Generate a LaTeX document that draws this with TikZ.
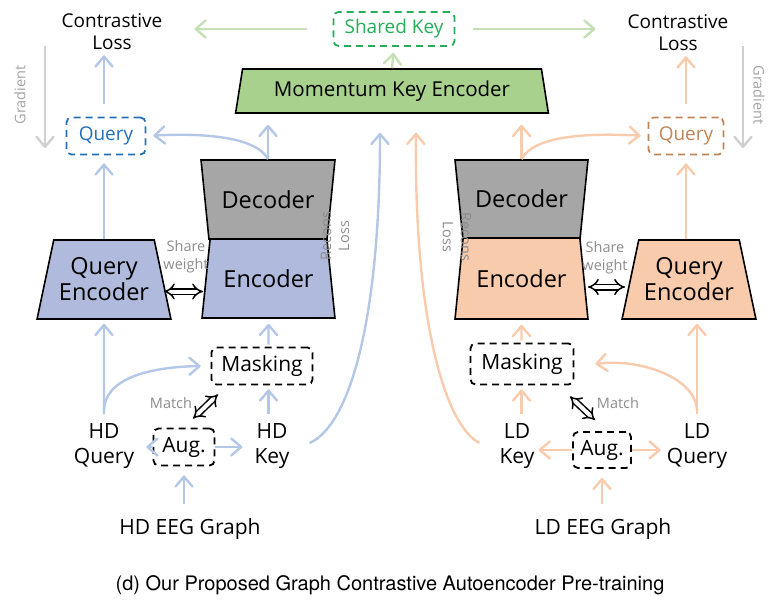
\documentclass[tikz,border=0pt]{standalone}
\usepackage{fontspec}
\setmainfont{Open Sans}
\newfontfamily\capfont{TeX Gyre Heros}
\usetikzlibrary{arrows.meta, shapes.geometric, calc}

\definecolor{arrblue}{HTML}{B4C7E7}
\definecolor{arrorange}{HTML}{F8CBAD}
\definecolor{arrgreen}{HTML}{C5E0B4}
\definecolor{arrgray}{HTML}{D0D0D0}
\definecolor{encblue}{HTML}{AFBADC}
\definecolor{encorange}{HTML}{F8CBAD}
\definecolor{momgreen}{HTML}{A9D18E}
\definecolor{decgray}{HTML}{A6A6A6}
\definecolor{txtgray}{HTML}{8C8C8C}
\definecolor{gradtxt}{HTML}{A3A3A3}
\definecolor{qblue}{HTML}{2470B8}
\definecolor{qbrown}{HTML}{BF8457}
\definecolor{kgreen}{HTML}{25AD58}

\newcommand{\fsz}[2]{\fontsize{#1}{#2}\selectfont}

\begin{document}
\begin{tikzpicture}[x=1pt, y=-1pt,
  lab/.style={align=center, inner sep=0pt, font=\fsz{21}{25}},
  trap/.style={trapezium, draw=black, line width=1.6pt, trapezium stretches=true,
    inner sep=0pt, align=center, font=\fsz{23.5}{26}},
  dbox/.style={draw, dash pattern=on 7pt off 5pt, line width=1.8pt, rounded corners=5pt,
    inner sep=0pt, minimum height=37pt, font=\fsz{21}{24}},
  conn/.style={line width=2.4pt, -{Straight Barb[length=10pt,width=17pt,round]}},
  blue arr/.style={conn, draw=arrblue},
  orange arr/.style={conn, draw=arrorange},
  green arr/.style={conn, draw=arrgreen},
  gray arr/.style={conn, draw=arrgray},
  twoway/.style={double=white, double distance=4pt, line width=1.5pt, {Implies}-{Implies}},
  note/.style={text=txtgray, font=\fsz{14.5}{18}, align=center, inner sep=0pt}]

\useasboundingbox (0,0) rectangle (769,602);

% top row
\node[lab, font=\fsz{19}{22}] (lcl) at (112,32) {Contrastive\\Loss};
\node[lab, font=\fsz{19}{22}] (rcl) at (678,33) {Contrastive\\Loss};
\node[dbox, draw=kgreen, text=kgreen, minimum width=121pt, minimum height=34pt, font=\fsz{19}{22}] (skey) at (394,29) {Shared Key};
\node[trap, fill=momgreen, minimum width=313pt, minimum height=44pt, trapezium angle=75, font=\fsz{20.5}{24}] (mom) at (392,91) {Momentum Key Encoder};

\draw[green arr, shorten <=26pt, shorten >=32pt] (skey.west) -- (skey.west -| lcl.east);
\draw[green arr, shorten <=18pt, shorten >=32pt] (skey.east) -- (skey.east -| rcl.west);
\draw[green arr, shorten >=6pt] (mom.north) -- (skey.south);

% HD side
\node[dbox, draw=qblue, text=qblue, minimum width=79pt, font=\fsz{19}{22}] (lqry) at (106,136) {Query};
\node[trap, fill=decgray, minimum width=134pt, minimum height=79pt, trapezium angle=71, shape border rotate=180] (ldec) at (268,199.5) {Decoder};
\node[trap, fill=encblue, minimum width=133pt, minimum height=79pt, trapezium angle=71] (lenc) at (268.5,278.5) {Encoder};
\node[trap, fill=encblue, minimum width=134pt, minimum height=79pt, trapezium angle=71] (lqenc) at (104,279.5) {Query\\Encoder};
\node[dbox, minimum width=101pt] (lmask) at (262,366) {Masking};
\node[dbox, minimum width=61pt] (laug) at (184,447) {Aug.};
\node[lab] (lhdq) at (104,446) {HD\\Query};
\node[lab] (lhdk) at (272,446) {HD\\Key};
\node[lab] (lgraph) at (190,529) {HD EEG Graph};

\node[note] at (186,257) {Share\\weight};
\node[note] at (171,403) {Match};
\node[note, rotate=90] at (335,236) {Recons\\Loss};
\node[note, rotate=90, text=gradtxt] at (20,95) {Gradient};
\draw[gray arr] (45,46) -- (45,148);

\draw[blue arr, shorten <=13pt, shorten >=5pt] (lqry.north -| lqenc) -- (lqenc |- lcl.south);
\draw[blue arr, shorten >=8pt] (lqenc.north) -- (lqenc.north |- lqry.south);
\draw[blue arr, shorten >=7pt] (ldec.north) .. controls (256,136) and (200,133) .. (lqry.east);
\draw[blue arr, shorten >=11pt] (ldec.north) -- (ldec.north |- mom.south);
\draw[blue arr, shorten <=2pt, shorten >=5pt] (lmask.north -| lenc) -- (lenc.south);
\draw[blue arr, shorten <=9pt, shorten >=4pt] (lhdk.north -| lenc) -- (lmask.south -| lenc);
\draw[blue arr, shorten <=9pt, shorten >=4pt] (lhdq.north) -- (lqenc.south);
\draw[blue arr] ([yshift=12pt]lhdq.north) .. controls (104,378) and (150,367) .. ([xshift=-10pt]lmask.west);
\draw[blue arr, shorten >=12pt] (laug.west) -- (laug.west -| lhdq.east);
\draw[blue arr, shorten >=12pt] (laug.east) -- (laug.east -| lhdk.west);
\draw[blue arr, shorten <=14pt, shorten >=9pt] (lgraph.north -| laug) -- (laug.south);
\draw[blue arr] ($(lhdk.east)+(20,-3)$) .. controls (350,425) and (380,320) .. ($(mom.south)+(-12,19)$);

\draw[twoway] ($(laug.north)+(9,-9)$) -- ($(lmask.south)+(-44,9)$);
\draw[twoway] ($(lqenc.center)+(60,12)$) -- ($(lenc.center)+(-65.5,13)$);

% LD side
\node[dbox, draw=qbrown, text=qbrown, minimum width=75pt, font=\fsz{19}{22}] (rqry) at (686,136) {Query};
\node[trap, fill=decgray, minimum width=133pt, minimum height=78pt, trapezium angle=71, shape border rotate=180] (rdec) at (521.5,199) {Decoder};
\node[trap, fill=encorange, minimum width=133pt, minimum height=81pt, trapezium angle=71] (renc) at (521.5,278.5) {Encoder};
\node[trap, fill=encorange, minimum width=134pt, minimum height=79pt, trapezium angle=71] (rqenc) at (689,279.5) {Query\\Encoder};
\node[dbox, minimum width=103pt, minimum height=41pt] (rmask) at (522,364) {Masking};
\node[dbox, minimum width=58pt, minimum height=36pt] (raug) at (602,450) {Aug.};
\node[lab] (rldk) at (517,446) {LD\\Key};
\node[lab] (rldq) at (697,446) {LD\\Query};
\node[lab] (rgraph) at (603,529) {LD EEG Graph};

\node[note] at (605,258) {Share\\weight};
\node[note] at (618,403) {Match};
\node[note, rotate=-90] at (457,237) {Recons\\Loss};
\node[note, rotate=-90, text=gradtxt] at (759,95) {Gradient};
\draw[gray arr] (743,46) -- (743,148);

\draw[orange arr, shorten <=13pt, shorten >=5pt] (rqry.north) -- (rqry.north |- rcl.south);
\draw[orange arr, shorten >=8pt] (rqenc.north -| rqry) -- (rqry.south);
\draw[orange arr, shorten >=7pt] (rdec.north) .. controls (534,135) and (590,133) .. (rqry.west);
\draw[orange arr, shorten >=11pt] (rdec.north) -- (rdec.north |- mom.south);
\draw[orange arr, shorten <=2pt, shorten >=5pt] (rmask.north -| renc) -- (renc.south);
\draw[orange arr, shorten <=9pt, shorten >=4pt] (rldk.north -| renc) -- (rmask.south -| renc);
\draw[orange arr, shorten <=9pt, shorten >=4pt] (rldq.north) -- (rldq |- rqenc.south);
\draw[orange arr] ([yshift=12pt]rldq.north) .. controls (697,378) and (640,358) .. ([xshift=21pt]rmask.east);
\draw[orange arr] (raug.west) -- ([xshift=4pt]raug.west -| rldk.east);
\draw[orange arr, shorten >=6pt] (raug.east) -- (raug.east -| rldq.west);
\draw[orange arr, shorten <=14pt, shorten >=9pt] (rgraph.north -| raug) -- (raug.south);
\draw[orange arr] ($(rldk.west)+(-20,-3)$) .. controls (445,425) and (414,320) .. ($(mom.south)+(24,19)$);

\draw[twoway] ($(rmask.south)+(48,11)$) -- ($(raug.north)+(-7,-11)$);
\draw[twoway] ($(renc.center)+(66.5,8.5)$) -- ($(rqenc.center)+(-64,7.5)$);

% caption
\node[font=\capfont\fsz{20}{24}] (cap) at (390,585) {(d) Our Proposed Graph Contrastive Autoencoder Pre-training};
\end{tikzpicture}
\end{document}
